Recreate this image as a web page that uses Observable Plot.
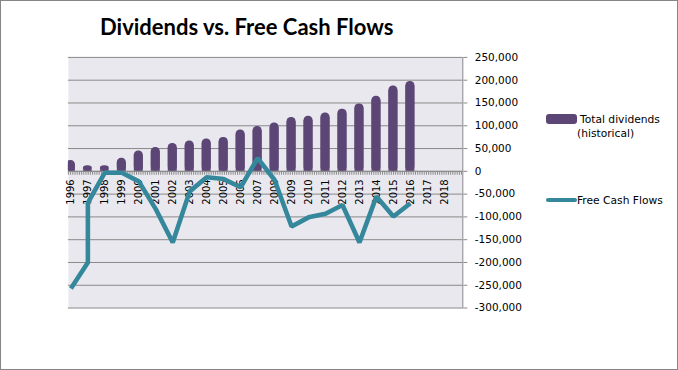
<!DOCTYPE html>
<html><head><meta charset="utf-8">
<script src="https://cdn.jsdelivr.net/npm/d3@7"></script>
<script src="https://cdn.jsdelivr.net/npm/@observablehq/plot@0.6"></script>
<style>
body{margin:0;background:#fff;}
#chart{position:relative;width:678px;height:370px;box-sizing:border-box;border:1px solid #868686;overflow:hidden;font-family:"DejaVu Sans",sans-serif;color:#000;}
#plot{position:absolute;left:-1px;top:-1px;}
.abs{position:absolute;white-space:nowrap;}
#title{left:99px;top:15px;font:bold 22px/22px Lato,"Open Sans",sans-serif;}
.leg{font-size:10.7px;line-height:13px;}
</style>
</head><body>
<div id="chart">
  <div id="plot"></div>
  <div id="title" class="abs">Dividends vs. Free Cash Flows</div>
  <div class="abs" style="left:545px;top:113px;width:31px;height:10px;background:#5B4675;border-radius:3px;"></div>
  <div class="abs leg" style="left:579px;top:112px;">Total dividends</div>
  <div class="abs leg" style="left:576px;top:126px;">(historical)</div>
  <div class="abs" style="left:545px;top:197px;width:31px;height:4px;background:#35879C;border-radius:2px;"></div>
  <div class="abs leg" style="left:576px;top:193px;">Free Cash Flows</div>
</div>
<script>
const years = ["1996","1997","1998","1999","2000","2001","2002","2003","2004","2005","2006","2007","2008","2009","2010","2011","2012","2013","2014","2015","2016","2017","2018"];
const dividendYears = ["1996","1997","1998","1999","2000","2001","2002","2003","2004","2005","2006","2007","2008","2009","2010","2011","2012","2013","2014","2015","2016"];
const dividends = [24000,12000,12000,28500,44500,52500,61000,66500,71000,74500,90500,98500,106000,118000,121000,128000,136500,148000,165000,187000,197000];
const fcfYears = ["1996","1997","1997","1998","1999","2000","2001","2002","2003","2004","2005","2006","2007","2008","2009","2010","2011","2012","2013","2014","2015","2016"];
const fcfValues = [-257000,-200000,-69000,-3000,-3000,-22000,-83000,-156000,-44000,-13000,-17000,-35000,29000,-19000,-121000,-101000,-93000,-74000,-156000,-55000,-99000,-70000];
const yTicks = [-300000,-250000,-200000,-150000,-100000,-50000,0,50000,100000,150000,200000,250000];

const divData = dividendYears.map((y,i)=>({year:y, value:dividends[i]}));
const fcfData = fcfYears.map((y,i)=>({year:y, value:fcfValues[i]}));
const fmt = d => d.toLocaleString("en-US");

const chart = Plot.plot({
  width: 678, height: 370,
  marginLeft: 68, marginRight: 215, marginTop: 57, marginBottom: 62,
  style: {fontFamily: "DejaVu Sans", fontSize: "10.5px", color: "#000", background: "transparent"},
  x: {type: "band", domain: years, range: [65.2, 448.9], paddingInner: 0.5, paddingOuter: 0, axis: null},
  y: {domain: [-300000, 250000], axis: null},
  marks: [
    Plot.frame({fill: "#EAE8EF", stroke: null}),
    Plot.ruleY(yTicks, {stroke: "#898989", strokeWidth: 1}),
    Plot.barY(divData, {x: "year", y: "value", fill: "#5B4675", rx: 4.2, clip: true}),
    Plot.barY(divData, {x: "year", y: "value", fill: "#5B4675", insetTop: 4.2, clip: true}),
    Plot.ruleY([0], {stroke: "#8A8A8A", strokeWidth: 3, strokeDasharray: "1,1.2", dy: 2}),
    Plot.ruleY([0], {stroke: "#8A8A8A", strokeWidth: 1}),
    Plot.axisY(yTicks, {anchor: "right", label: null, tickSize: 4, tickPadding: 8, tickFormat: fmt, stroke: "#898989", fill: "#000"}),
    Plot.frame({anchor: "right", stroke: "#898989"}),
    Plot.text(years, {x: d => d, y: () => 0, text: d => d, rotate: -90, textAnchor: "end", dy: 8, fontSize: 10, fill: "#000"}),
    Plot.line(fcfData, {x: "year", y: "value", stroke: "#35879C", strokeWidth: 4.6, strokeLinejoin: "miter", strokeLinecap: "butt"})
  ]
});
document.getElementById("plot").appendChild(chart);
</script>
</body></html>
